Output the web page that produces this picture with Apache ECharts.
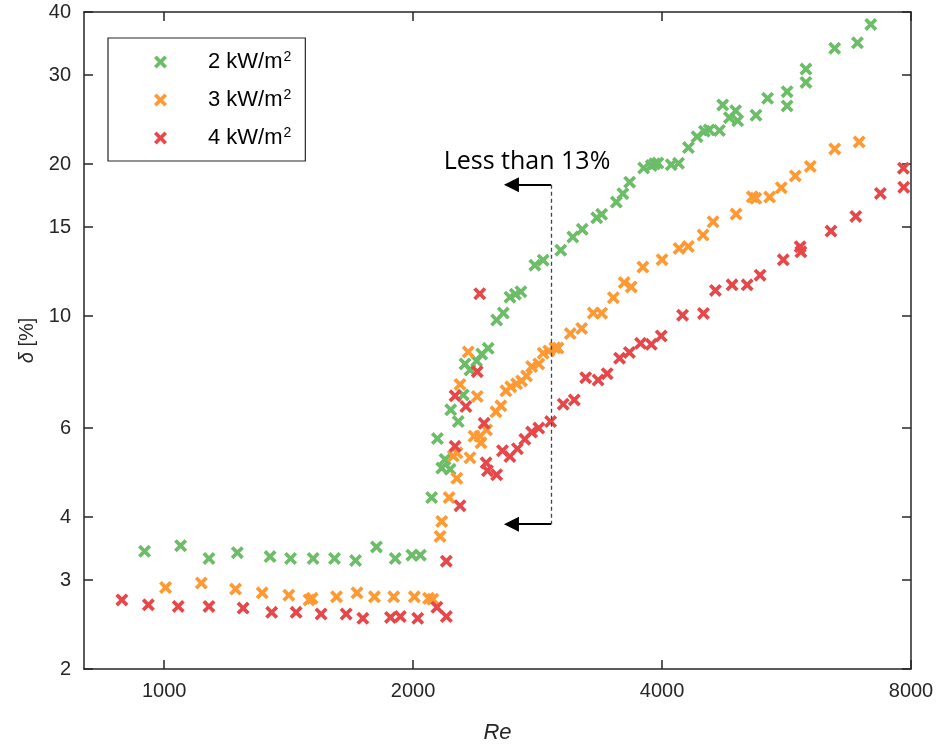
<!DOCTYPE html>
<html><head><meta charset="utf-8">
<script src="https://cdn.jsdelivr.net/npm/echarts@6/dist/echarts.min.js"></script>
<style>html,body{margin:0;padding:0;background:#fff}#c{width:939px;height:751px}</style>
</head><body><div id="c"></div>
<script>
// ---- data ----
const xTicks = [1000, 2000, 4000, 8000];
const yTicks = [2, 3, 4, 6, 10, 15, 20, 30, 40];
const fluxLabels = ['2', '3', '4'];
const seriesNames = ['2 kW/m2', '3 kW/m2', '4 kW/m2'];
const seriesColors = ['#6cbd67', '#ff9933', '#e8474a'];

const green = [
  [947,3.42],[1047,3.51],[1133,3.31],[1226,3.40],[1343,3.34],[1422,3.31],[1514,3.31],[1607,3.31],[1704,3.28],[1806,3.49],[1903,3.31],[1993,3.36],[2041,3.36],
  [2106,4.37],[2140,5.72],[2166,5.00],[2186,5.20],[2217,4.97],[2221,6.52],[2268,6.18],[2300,6.98],[2311,8.04],[2343,7.82],[2387,8.15],[2421,8.41],[2465,8.63],
  [2524,9.82],[2571,10.14],[2619,10.90],[2659,11.05],[2700,11.17],[2807,12.61],[2873,12.90],[3017,13.50],[3120,14.34],[3203,14.85],[3335,15.65],[3381,15.90],
  [3522,16.81],[3587,17.47],[3655,18.41],[3800,19.64],[3882,19.86],[3918,20.02],[3954,20.09],[4103,19.94],[4188,20.07],[4305,21.56],[4409,22.66],[4501,23.23],
  [4561,23.36],[4693,23.30],[4736,26.18],[4825,24.71],[4910,25.51],[4938,24.36],[5196,24.98],[5367,26.98],[5666,27.81],[5666,26.07],[5971,30.83],[5971,29.01],
  [6469,33.89],[6892,34.76],[7153,37.80]
];
const orange = [
  [1004,2.90],[1109,2.96],[1220,2.88],[1314,2.83],[1415,2.80],[1497,2.74],[1510,2.76],[1616,2.78],[1711,2.83],[1796,2.78],[1895,2.78],[2007,2.78],[2088,2.76],[2113,2.75],
  [2156,3.66],[2166,3.92],[2211,4.37],[2259,4.77],[2237,5.28],[2260,5.36],[2279,7.32],[2332,8.49],[2343,5.24],[2391,6.93],[2370,5.78],[2410,5.78],[2416,5.61],
  [2454,5.95],[2519,6.46],[2554,6.64],[2590,7.11],[2625,7.24],[2668,7.34],[2705,7.44],[2743,7.61],[2782,7.94],[2838,8.04],[2873,8.44],[2918,8.53],[2968,8.65],
  [2994,8.64],[3098,9.23],[3198,9.45],[3303,10.14],[3381,10.13],[3493,10.87],[3600,11.65],[3671,11.42],[3792,12.50],[4000,12.93],[4194,13.61],[4303,13.73],
  [4484,14.47],[4611,15.37],[4916,15.92],[5143,17.22],[5193,17.10],[5397,17.20],[5575,17.95],[5797,18.94],[6044,19.78],[6469,21.42],[6925,22.12]
];
const red = [
  [889,2.74],[957,2.68],[1040,2.66],[1133,2.66],[1246,2.64],[1349,2.59],[1444,2.59],[1548,2.57],[1660,2.57],[1739,2.52],[1878,2.53],[1930,2.54],[2026,2.52],
  [2137,2.65],[2194,2.54],[2194,3.27],
  [2248,6.95],[2317,6.62],[2391,7.76],[2408,11.07],[2248,5.52],[2279,4.21],[2437,6.13],[2451,5.12],[2460,4.94],[2524,4.85],[2565,5.41],[2619,5.27],[2674,5.46],
  [2730,5.70],[2782,5.89],[2838,6.00],[2933,6.18],[3038,6.69],[3133,6.82],[3234,7.55],[3348,7.47],[3433,7.69],[3554,8.25],[3652,8.47],[3768,8.83],[3882,8.79],
  [3991,9.13],[4235,10.04],[4489,10.12],[4641,11.24],[4861,11.53],[5070,11.53],[5256,12.05],[5606,12.92],[5888,13.40],[5876,13.72],[6402,14.73],[6861,15.75],
  [7346,17.49],[7840,17.99],[7833,19.62]
];
// annotation (Re, delta)
const arrowRe = [2937, 2630];
const arrowDelta = [18.2, 3.87];
const annotationText = 'Less than 13%';

// ---- chart ----
const X_SYMBOL = 'path://M0,2L2,0L5,3L8,0L10,2L7,5L10,8L8,10L5,7L2,10L0,8L3,5Z';
const AX = '#262626';
const FONT = 'Arial, "Liberation Sans", Helvetica, sans-serif';
const fmt = v => String(Math.round(v));

function mkX(pos, show) {
  return {
    type: 'log', logBase: 10, min: 800, max: 8000, position: pos,
    axisLine: { show: true, onZero: false, lineStyle: { color: AX, width: 1.5 } },
    axisTick: { show: true, inside: true, length: 9, customValues: xTicks, lineStyle: { color: AX, width: 1.5 } },
    axisLabel: { show: show, customValues: xTicks, formatter: fmt, color: AX, fontSize: 20, fontFamily: FONT, margin: 12 },
    splitLine: { show: false }, minorTick: { show: false }, minorSplitLine: { show: false },
    name: show ? 'Re' : '', nameLocation: 'middle', nameGap: 53,
    nameTextStyle: { fontStyle: 'italic', fontSize: 22, fontFamily: FONT, color: AX }
  };
}
function mkY(pos, show) {
  return {
    type: 'log', logBase: 10, min: 2, max: 40, position: pos,
    axisLine: { show: true, onZero: false, lineStyle: { color: AX, width: 1.5 } },
    axisTick: { show: true, inside: true, length: 9, customValues: yTicks, lineStyle: { color: AX, width: 1.5 } },
    axisLabel: { show: show, customValues: yTicks, formatter: fmt, color: AX, fontSize: 20, fontFamily: FONT, margin: 13 },
    splitLine: { show: false }, minorTick: { show: false }, minorSplitLine: { show: false },
    name: show ? '{i|δ} [%]' : '', nameLocation: 'middle', nameGap: 46, nameRotate: 90,
    nameTextStyle: { fontSize: 20, fontFamily: FONT, color: AX,
      rich: { i: { fontStyle: 'italic', fontSize: 20, fontFamily: FONT, color: AX } } }
  };
}

const dataSets = [green, orange, red];
const series = dataSets.map((d, i) => ({
  name: seriesNames[i], type: 'scatter', data: d,
  xAxisIndex: 0, yAxisIndex: 0,
  symbol: X_SYMBOL, symbolSize: 13,
  itemStyle: { color: seriesColors[i], opacity: 1 },
  emphasis: { disabled: true }
}));

const arrowLine = { color: '#000', width: 2, type: 'solid' };
series[2].markLine = {
  silent: true, animation: false,
  symbol: ['none', 'triangle'], symbolSize: 15,
  label: { show: false },
  data: [
    [{ coord: [arrowRe[0], arrowDelta[0]], lineStyle: arrowLine }, { coord: [arrowRe[1], arrowDelta[0]] }],
    [{ coord: [arrowRe[0], arrowDelta[1]], lineStyle: arrowLine }, { coord: [arrowRe[1], arrowDelta[1]] }],
    [{ coord: [arrowRe[0], arrowDelta[0]], symbol: 'none', lineStyle: { color: '#444', width: 1.3, type: [4, 3] } },
     { coord: [arrowRe[0], arrowDelta[1]], symbol: 'none' }]
  ]
};

const chart = echarts.init(document.getElementById('c'), null, { renderer: 'canvas' });
chart.setOption({
  animation: false,
  backgroundColor: '#fff',
  grid: { left: 84, right: 28, top: 12, bottom: 82, containLabel: false, outerBoundsMode: 'none' },
  xAxis: [mkX('bottom', true), mkX('top', false)],
  yAxis: [mkY('left', true), mkY('right', false)],
  legend: {
    show: true, orient: 'vertical', left: 108, top: 38,
    backgroundColor: '#fff', borderColor: AX, borderWidth: 1.2, borderRadius: 0,
    padding: [12, 14, 11, 46], itemGap: 14, itemWidth: 13, itemHeight: 13,
    data: seriesNames.map((n, i) => ({ name: n, icon: X_SYMBOL, itemStyle: { color: seriesColors[i] } })),
    formatter: function (name) {
      const i = seriesNames.indexOf(name);
      return '{sp|}{t|' + fluxLabels[i] + ' kW/m}{s|2}';
    },
    textStyle: {
      color: '#000', fontFamily: FONT, fontSize: 22, lineHeight: 24,
      rich: {
        sp: { width: 36 },
        t: { fontSize: 22, fontFamily: FONT, color: '#000', lineHeight: 24 },
        s: { fontSize: 14, fontFamily: FONT, color: '#000', lineHeight: 14, verticalAlign: 'top', padding: [0, 0, 10, 1] }
      }
    },
    selectedMode: false
  },
  graphic: [{
    type: 'text', x: 527, y: 162, silent: true,
    style: { text: annotationText, font: '25px "Open Sans", "Noto Sans", sans-serif', fill: '#000',
      textAlign: 'center', textVerticalAlign: 'middle', align: 'center', verticalAlign: 'middle' }
  }],
  series: series
});
</script></body></html>
